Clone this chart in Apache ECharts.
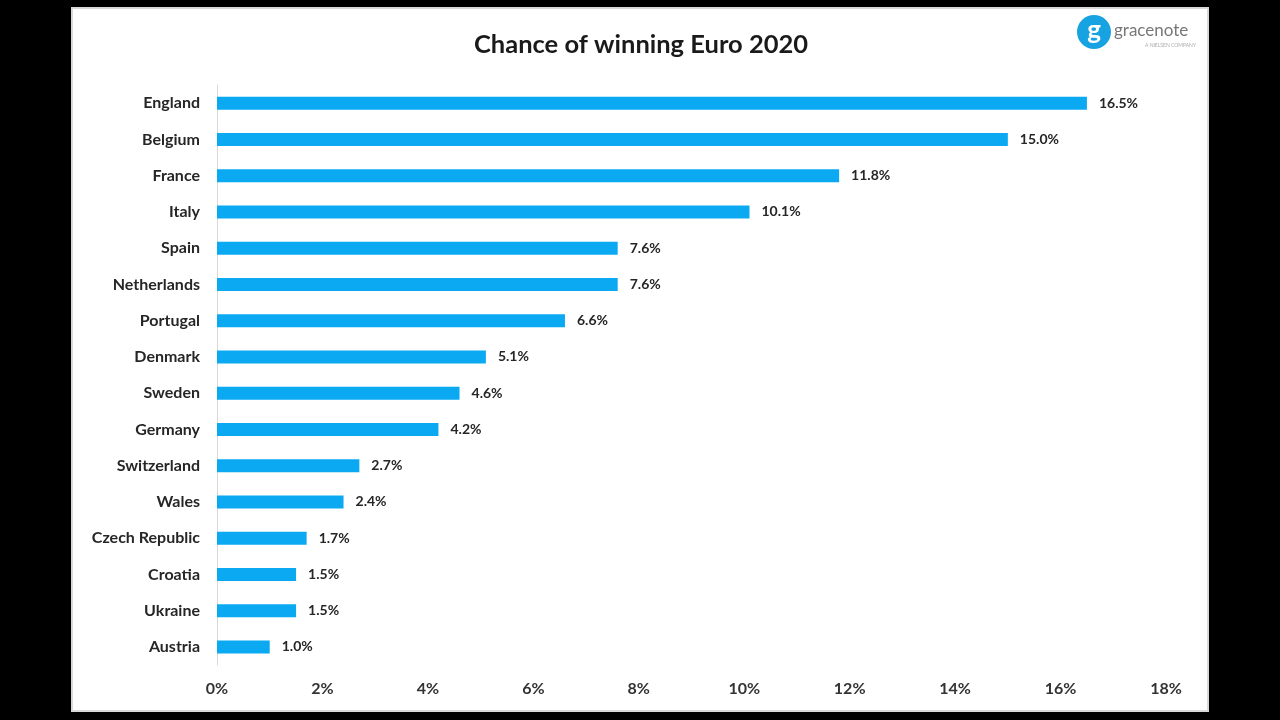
<!DOCTYPE html>
<html>
<head>
<meta charset="utf-8">
<script src="https://cdn.jsdelivr.net/npm/echarts@6/dist/echarts.min.js"></script>
<style>
html,body{margin:0;padding:0;background:#000;}
#main{width:1280px;height:720px;}
</style>
</head>
<body>
<div id="main"></div>
<script>
const countries = ["England","Belgium","France","Italy","Spain","Netherlands","Portugal","Denmark","Sweden","Germany","Switzerland","Wales","Czech Republic","Croatia","Ukraine","Austria"];
const chances = [16.5,15.0,11.8,10.1,7.6,7.6,6.6,5.1,4.6,4.2,2.7,2.4,1.7,1.5,1.5,1.0];
const titleText = "Chance of winning Euro 2020";

const FONT = "Lato, 'Open Sans', sans-serif";
const chart = echarts.init(document.getElementById('main'));
chart.setOption({
  backgroundColor: '#000',
  animation: false,
  title: {
    text: titleText,
    left: 636, top: 27, textAlign: 'center',
    textStyle: {fontFamily: FONT, fontSize: 25.5, fontWeight: 'bold', color: '#1a1a1a'}
  },
  graphic: [
    {type:'rect', z:-10, shape:{x:72,y:8,width:1136,height:703}, style:{fill:'#fff', stroke:'#d9d9d9', lineWidth:2}},
    {type:'circle', z:10, shape:{cx:1094, cy:32, r:17}, style:{fill:'#17a3e2'}},
    {type:'text', z:11, x:1094, y:31, style:{text:'g', fill:'#fff', font:'bold 26px ' + FONT, align:'center', verticalAlign:'middle'}},
    {type:'text', z:11, x:1114, y:31, style:{text:'gracenote', fill:'#777', font:'17px ' + FONT, align:'left', verticalAlign:'middle'}},
    {type:'text', z:11, x:1196, y:45, style:{text:'A NIELSEN COMPANY', fill:'#aaa', font:'5px ' + FONT, align:'right', verticalAlign:'middle'}}
  ],
  grid: {left: 217, right: 114, top: 85, bottom: 55, containLabel: false},
  xAxis: {
    type: 'value', min: 0, max: 18, interval: 2,
    axisLine: {show: false}, axisTick: {show: false}, splitLine: {show: false},
    axisLabel: {formatter: v => v + '%', fontFamily: FONT, fontSize: 16, fontWeight: 'bold', color: '#333', margin: 16}
  },
  yAxis: {
    type: 'category', data: countries, inverse: true,
    axisLine: {show: true, lineStyle: {color: '#d9d9d9', width: 1}},
    axisTick: {show: false},
    axisLabel: {fontFamily: FONT, fontSize: 16, fontWeight: 'bold', color: '#262626', margin: 17}
  },
  series: [{
    type: 'bar', data: chances, barWidth: 13,
    itemStyle: {color: '#0aa9f2'},
    label: {show: true, position: 'right', distance: 12, formatter: p => p.value.toFixed(1) + '%',
      fontFamily: FONT, fontSize: 14, fontWeight: 'bold', color: '#262626'}
  }]
});
</script>
</body>
</html>
